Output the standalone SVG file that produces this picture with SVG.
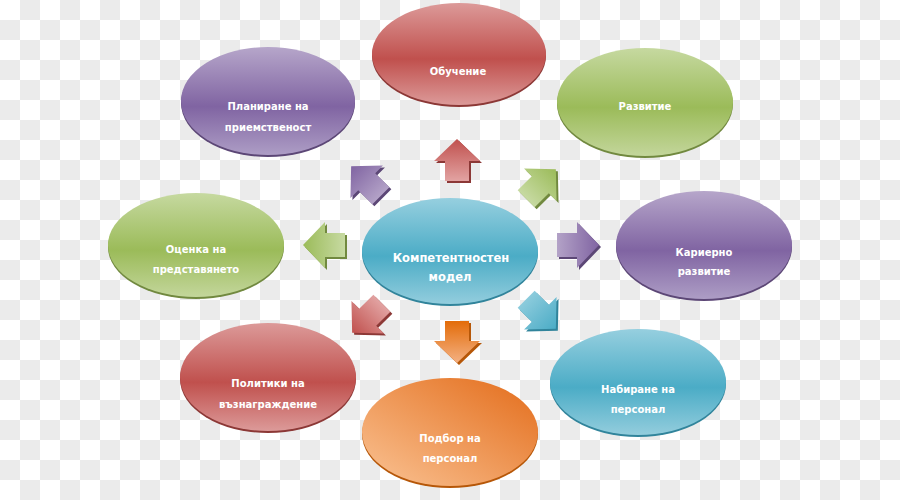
<svg xmlns="http://www.w3.org/2000/svg" width="900" height="500" viewBox="0 0 900 500">
<defs>
  <pattern id="checker" width="40" height="40" patternUnits="userSpaceOnUse">
    <rect width="40" height="40" fill="#ffffff"/>
    <rect x="20" y="0" width="20" height="20" fill="#ebebeb"/>
    <rect x="0" y="20" width="20" height="20" fill="#ebebeb"/>
  </pattern>
  <linearGradient id="gRed" x1="0" y1="0" x2="0" y2="1">
    <stop offset="0" stop-color="#dc9a99"/>
    <stop offset="0.55" stop-color="#c0504d"/>
    <stop offset="1" stop-color="#dc9a99"/>
  </linearGradient>
  <linearGradient id="gPurple" x1="0" y1="0" x2="0" y2="1">
    <stop offset="0" stop-color="#b6a6ca"/>
    <stop offset="0.55" stop-color="#8064a2"/>
    <stop offset="1" stop-color="#ad9dc5"/>
  </linearGradient>
  <linearGradient id="gGreen" x1="0" y1="0" x2="0" y2="1">
    <stop offset="0" stop-color="#c6d9a0"/>
    <stop offset="0.55" stop-color="#9bbb59"/>
    <stop offset="1" stop-color="#c3d69b"/>
  </linearGradient>
  <linearGradient id="gBlue" x1="0" y1="0" x2="0" y2="1">
    <stop offset="0" stop-color="#96cfdf"/>
    <stop offset="0.55" stop-color="#4bacc6"/>
    <stop offset="1" stop-color="#93cddd"/>
  </linearGradient>
  <linearGradient id="gOrange" x1="1" y1="0" x2="0" y2="1">
    <stop offset="0" stop-color="#e36c1a"/>
    <stop offset="1" stop-color="#fac394"/>
  </linearGradient>
  <linearGradient id="aRed" x1="0" y1="0" x2="0" y2="1">
    <stop offset="0" stop-color="#c0504d"/>
    <stop offset="1" stop-color="#e2a3a2"/>
  </linearGradient>
  <linearGradient id="aPurple" x1="0" y1="0" x2="0" y2="1">
    <stop offset="0" stop-color="#8064a2"/>
    <stop offset="1" stop-color="#b3a2c7"/>
  </linearGradient>
  <linearGradient id="aGreen" x1="0" y1="0" x2="0" y2="1">
    <stop offset="0" stop-color="#9bbb59"/>
    <stop offset="1" stop-color="#c7daa2"/>
  </linearGradient>
  <linearGradient id="aBlue" x1="0" y1="0" x2="0" y2="1">
    <stop offset="0" stop-color="#4bacc6"/>
    <stop offset="1" stop-color="#8ccbdc"/>
  </linearGradient>
  <linearGradient id="aOrange" x1="0" y1="0" x2="0" y2="1">
    <stop offset="0" stop-color="#f4b183"/>
    <stop offset="1" stop-color="#e36c09"/>
  </linearGradient>
  <path id="arrow" d="M0,-21 L23,1 L12,1 L12,21 L-12,21 L-12,1 L-23,1 Z"/>
</defs>
<style>
  .lbl { font-family: "DejaVu Sans", "Liberation Sans", sans-serif; font-size: 10px; font-weight: bold; fill: #ffffff; text-anchor: middle; }
  .big { font-size: 11.5px; }
  .rimRed { fill: #8c3836; }
  .rimPurple { fill: #5c4776; }
  .rimGreen { fill: #71893f; }
  .rimBlue { fill: #31849b; }
  .rimOrange { fill: #b65708; }
</style>
<rect width="900" height="500" fill="url(#checker)"/>

<g id="connectors">
  <g id="arrow-up">
    <use href="#arrow" transform="translate(459,162)" class="rimRed"/>
    <use href="#arrow" transform="translate(457,160)" fill="url(#aRed)"/>
  </g>
  <g id="arrow-upleft">
    <use href="#arrow" transform="translate(368,183) rotate(-45)" class="rimPurple"/>
    <use href="#arrow" transform="translate(366,181) rotate(-45)" fill="url(#aPurple)"/>
  </g>
  <g id="arrow-upright">
    <use href="#arrow" transform="translate(543,186) rotate(45)" class="rimGreen"/>
    <use href="#arrow" transform="translate(541,184) rotate(45)" fill="url(#aGreen)"/>
  </g>
  <g id="arrow-right">
    <use href="#arrow" transform="translate(580,247) rotate(90)" class="rimPurple"/>
    <use href="#arrow" transform="translate(578,245) rotate(90)" fill="url(#aPurple)"/>
  </g>
  <g id="arrow-left">
    <use href="#arrow" transform="translate(326,247) rotate(-90)" class="rimGreen"/>
    <use href="#arrow" transform="translate(324,245) rotate(-90)" fill="url(#aGreen)"/>
  </g>
  <g id="arrow-downleft">
    <use href="#arrow" transform="translate(369,320) rotate(-135)" class="rimRed"/>
    <use href="#arrow" transform="translate(367,318) rotate(-135)" fill="url(#aRed)"/>
  </g>
  <g id="arrow-down">
    <use href="#arrow" transform="translate(459,344) rotate(180)" class="rimOrange"/>
    <use href="#arrow" transform="translate(457,342) rotate(180)" fill="url(#aOrange)"/>
  </g>
  <g id="arrow-downright">
    <use href="#arrow" transform="translate(543,316) rotate(135)" class="rimBlue"/>
    <use href="#arrow" transform="translate(541,314) rotate(135)" fill="url(#aBlue)"/>
  </g>
</g>

<g id="node-obuchenie">
  <ellipse cx="459" cy="56" rx="87" ry="51" class="rimRed"/>
  <ellipse cx="459" cy="54" rx="87" ry="51" fill="url(#gRed)"/>
  <text class="lbl" x="458" y="75">Обучение</text>
</g>
<g id="node-planirane">
  <ellipse cx="268" cy="103" rx="87" ry="54" class="rimPurple"/>
  <ellipse cx="268" cy="101" rx="87" ry="54" fill="url(#gPurple)"/>
  <text class="lbl" x="268" y="110">Планиране на</text>
  <text class="lbl" x="268" y="131">приемственост</text>
</g>
<g id="node-razvitie">
  <ellipse cx="645" cy="104" rx="88" ry="54" class="rimGreen"/>
  <ellipse cx="645" cy="102" rx="88" ry="54" fill="url(#gGreen)"/>
  <text class="lbl" x="645" y="110">Развитие</text>
</g>
<g id="node-ocenka">
  <ellipse cx="196" cy="247" rx="88" ry="52" class="rimGreen"/>
  <ellipse cx="196" cy="245" rx="88" ry="52" fill="url(#gGreen)"/>
  <text class="lbl" x="196" y="253">Оценка на</text>
  <text class="lbl" x="196" y="273">представянето</text>
</g>
<g id="node-kompetentnosten">
  <ellipse cx="450" cy="253" rx="88" ry="53" class="rimBlue"/>
  <ellipse cx="450" cy="251" rx="88" ry="53" fill="url(#gBlue)"/>
  <text class="lbl big" x="451" y="262">Компетентностен</text>
  <text class="lbl big" x="450" y="281">модел</text>
</g>
<g id="node-karierno">
  <ellipse cx="704" cy="247" rx="88" ry="54" class="rimPurple"/>
  <ellipse cx="704" cy="245" rx="88" ry="54" fill="url(#gPurple)"/>
  <text class="lbl" x="704" y="256">Кариерно</text>
  <text class="lbl" x="704" y="275">развитие</text>
</g>
<g id="node-politiki">
  <ellipse cx="268" cy="379" rx="88" ry="54" class="rimRed"/>
  <ellipse cx="268" cy="377" rx="88" ry="54" fill="url(#gRed)"/>
  <text class="lbl" x="268" y="387">Политики на</text>
  <text class="lbl" x="268" y="408">възнаграждение</text>
</g>
<g id="node-podbor">
  <ellipse cx="450" cy="434" rx="88" ry="54" class="rimOrange"/>
  <ellipse cx="450" cy="432" rx="88" ry="54" fill="url(#gOrange)"/>
  <text class="lbl" x="450" y="442">Подбор на</text>
  <text class="lbl" x="450" y="462">персонал</text>
</g>
<g id="node-nabirane">
  <ellipse cx="638" cy="384" rx="88" ry="53" class="rimBlue"/>
  <ellipse cx="638" cy="382" rx="88" ry="53" fill="url(#gBlue)"/>
  <text class="lbl" x="638" y="393">Набиране на</text>
  <text class="lbl" x="638" y="413">персонал</text>
</g>
</svg>
